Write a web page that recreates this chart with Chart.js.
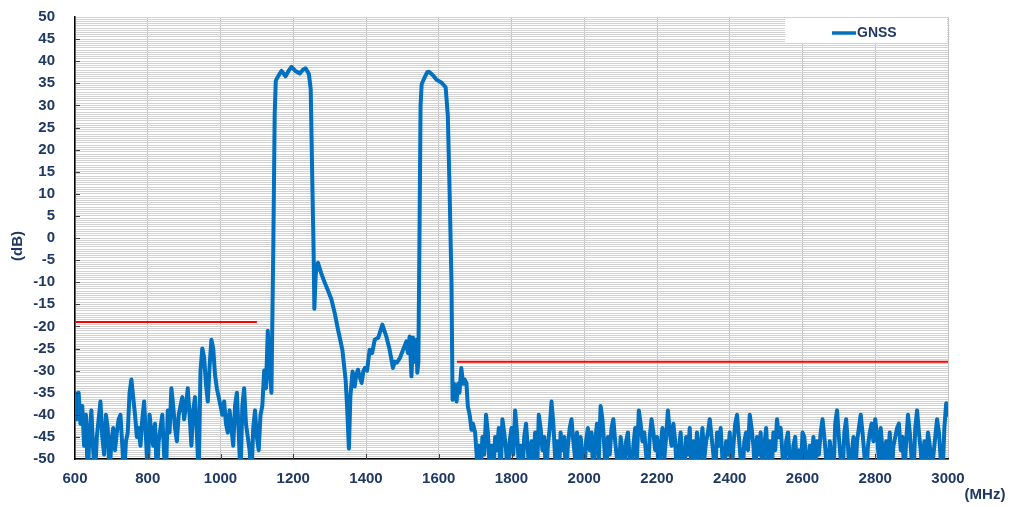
<!DOCTYPE html>
<html>
<head>
<meta charset="utf-8">
<script src="https://cdn.jsdelivr.net/npm/chart.js@4.4.1/dist/chart.umd.min.js"></script>
<style>
  html, body { margin: 0; padding: 0; background: #fff; }
  #wrap { width: 1015px; height: 507px; position: relative; }
</style>
</head>
<body>
<div id="wrap"><canvas id="gnss-chart"></canvas></div>
<script>
const freqMHz = [
  // low side noise
  600, 605, 610, 615, 620, 625, 630, 635, 640, 645, 650, 655, 660, 665, 670, 675, 680, 685, 690, 695,
  700, 705, 710, 715, 720, 725, 730, 735, 740, 745, 750, 755, 760, 765, 770, 775, 780, 785, 790, 795,
  800, 805, 810, 815, 820, 825, 830, 835, 840, 845, 850, 855, 860, 865, 870, 875, 880, 885, 890, 895,
  900, 905, 910, 915, 920, 925, 930, 935, 940, 945, 950, 955, 960, 965, 970, 975, 980, 985, 990, 995,
  1000, 1005, 1010, 1015, 1020, 1025, 1030, 1035, 1040, 1045, 1050, 1055, 1060, 1065, 1070, 1075, 1080, 1085, 1090, 1095,
  1100, 1105, 1110, 1115, 1120, 1125, 1130, 1135, 1140,
  // pass bands
  1145, 1149, 1152, 1160, 1168, 1179, 1187, 1195, 1206, 1218,
  1226, 1234, 1243, 1248, 1253, 1256, 1258, 1262, 1268, 1277,
  1287, 1296, 1305, 1314, 1323, 1335, 1344, 1348, 1353, 1357,
  1363, 1369, 1373, 1378, 1383, 1388, 1393, 1397, 1403, 1410,
  1417, 1424, 1434, 1445, 1456, 1465, 1474, 1479, 1485, 1493,
  1502, 1511, 1515, 1520, 1525, 1529, 1533, 1539, 1541, 1544,
  1547, 1550, 1553, 1561, 1568, 1573, 1579, 1584, 1594, 1607,
  1619, 1625, 1630, 1635, 1638, 1642, 1649, 1653, 1657, 1662,
  1667, 1671, 1676, 1680, 1685, 1690, 1694,
  // high side noise
  1700, 1705, 1710, 1715, 1720, 1725, 1730, 1735, 1740, 1745, 1750, 1755, 1760, 1765, 1770, 1775, 1780, 1785, 1790, 1795,
  1800, 1805, 1810, 1815, 1820, 1825, 1830, 1835, 1840, 1845, 1850, 1855, 1860, 1865, 1870, 1875, 1880, 1885, 1890, 1895,
  1900, 1905, 1910, 1915, 1920, 1925, 1930, 1935, 1940, 1945, 1950, 1955, 1960, 1965, 1970, 1975, 1980, 1985, 1990, 1995,
  2000, 2005, 2010, 2015, 2020, 2025, 2030, 2035, 2040, 2045, 2050, 2055, 2060, 2065, 2070, 2075, 2080, 2085, 2090, 2095,
  2100, 2105, 2110, 2115, 2120, 2125, 2130, 2135, 2140, 2145, 2150, 2155, 2160, 2165, 2170, 2175, 2180, 2185, 2190, 2195,
  2200, 2205, 2210, 2215, 2220, 2225, 2230, 2235, 2240, 2245, 2250, 2255, 2260, 2265, 2270, 2275, 2280, 2285, 2290, 2295,
  2300, 2305, 2310, 2315, 2320, 2325, 2330, 2335, 2340, 2345, 2350, 2355, 2360, 2365, 2370, 2375, 2380, 2385, 2390, 2395,
  2400, 2405, 2410, 2415, 2420, 2425, 2430, 2435, 2440, 2445, 2450, 2455, 2460, 2465, 2470, 2475, 2480, 2485, 2490, 2495,
  2500, 2505, 2510, 2515, 2520, 2525, 2530, 2535, 2540, 2545, 2550, 2555, 2560, 2565, 2570, 2575, 2580, 2585, 2590, 2595,
  2600, 2605, 2610, 2615, 2620, 2625, 2630, 2635, 2640, 2645, 2650, 2655, 2660, 2665, 2670, 2675, 2680, 2685, 2690, 2695,
  2700, 2705, 2710, 2715, 2720, 2725, 2730, 2735, 2740, 2745, 2750, 2755, 2760, 2765, 2770, 2775, 2780, 2785, 2790, 2795,
  2800, 2805, 2810, 2815, 2820, 2825, 2830, 2835, 2840, 2845, 2850, 2855, 2860, 2865, 2870, 2875, 2880, 2885, 2890, 2895,
  2900, 2905, 2910, 2915, 2920, 2925, 2930, 2935, 2940, 2945, 2950, 2955, 2960, 2965, 2970, 2975, 2980, 2985, 2990, 2995,
  3000
];
const gnssDb = [
  -35, -41, -35, -42, -38, -47, -40, -54, -44, -39, -48, -54, -45, -41, -37, -45, -49, -40, -43, -54,
  -46, -43, -48, -44, -41, -40, -47, -54, -46, -44, -35, -32, -36, -40, -45, -43, -47, -41, -37, -45,
  -54, -40, -44, -47, -42, -54, -46, -43, -40, -49, -54, -39, -44, -34, -38, -43, -46, -40, -38, -36,
  -41, -38, -34, -40, -47, -39, -36, -44, -54, -30, -25, -27, -33, -37, -29, -23, -25, -31, -34, -36,
  -38, -40, -37, -42, -44, -39, -43, -47, -38, -35, -44, -54, -38, -34, -42, -45, -48, -54, -43, -39,
  -45, -48, -40, -38, -30, -34, -21, -30, -35,

  -3, 28, 35.6, 36.8, 37.8, 36.6, 37.8, 38.7, 37.8, 37.2,
  38, 38.4, 37.1, 33.7, 10, -3, -16, -8, -5.6, -8,
  -10.2, -12, -13.9, -17, -20.7, -25.3, -32.1, -38.1, -47.6, -35.9,
  -30.2, -33.6, -31, -29.8, -31.5, -32.8, -30, -29.4, -30, -25.3,
  -26, -23, -22.5, -19.6, -22.3, -25.3, -29.4, -28, -28.2, -27.2,
  -25.3, -23.4, -26, -22.3, -31.3, -22.5, -28, -23, -30.5, -28,
  0, 30, 34.8, 36.3, 37.5, 37.6, 37.2, 36.8, 35.8, 35.2,
  34.1, 27.6, 10, -10, -36.6, -33, -37, -33, -35, -29.4,
  -33, -32, -32.8, -38.1, -40, -43.4, -42,

  -44, -50, -47, -54, -45, -49, -40, -44, -52, -47, -54, -45, -48, -43, -54, -41, -44, -48, -54, -46,
  -43, -49, -39, -44, -51, -47, -54, -45, -42, -48, -54, -46, -50, -44, -54, -40, -43, -48, -45, -54,
  -47, -43, -37, -42, -50, -46, -54, -44, -48, -45, -54, -47, -43, -41, -46, -50, -44, -54, -45, -49,
  -54, -46, -43, -48, -44, -54, -46, -42, -50, -38, -41, -47, -54, -45, -49, -43, -41, -46, -50, -54,
  -45, -48, -54, -46, -44, -50, -54, -47, -43, -50, -39, -42, -46, -44, -49, -54, -45, -41, -44, -48,
  -45, -54, -47, -43, -50, -45, -39, -44, -47, -42, -46, -54, -48, -44, -50, -54, -45, -49, -43, -54,
  -46, -50, -44, -54, -47, -43, -50, -46, -44, -41, -45, -49, -54, -44, -47, -43, -50, -54, -46, -49,
  -44, -54, -47, -42, -40, -45, -50, -54, -46, -44, -48, -40, -43, -47, -54, -45, -49, -44, -54, -47,
  -43, -50, -46, -54, -44, -48, -41, -45, -43, -49, -54, -46, -44, -50, -54, -47, -45, -54, -48, -54,
  -44, -45, -50, -54, -47, -51, -45, -54, -46, -49, -44, -41, -45, -50, -54, -46, -50, -54, -42, -39,
  -45, -50, -54, -44, -41, -47, -54, -49, -45, -54, -46, -43, -40, -44, -49, -54, -47, -44, -42, -46,
  -41, -45, -50, -43, -48, -54, -46, -50, -44, -54, -47, -45, -43, -42, -48, -45, -54, -46, -40, -44,
  -50, -54, -43, -39, -44, -48, -54, -46, -50, -44, -47, -54, -49, -45, -41, -44, -50, -54, -43, -37.4,
  -40
];

// red limit lines
const limitLowMHz = [600, 1100];
const limitLowDb = [-19, -19];
const limitHighMHz = [1650, 3000];
const limitHighDb = [-28, -28];

const seriesName = 'GNSS';
const xTitle = '(MHz)';
const yTitle = '(dB)';

const navy = '#1f3864';
const blue = '#0070c0';
const fontFamily = 'Arial, "Liberation Sans", sans-serif';

function toPoints(xs, ys) {
  return xs.map((x, i) => ({ x: x, y: ys[i] }));
}

const decorations = {
  id: 'decorations',
  beforeDraw(chart) {
    const ctx = chart.ctx;
    ctx.save();
    ctx.fillStyle = '#fff';
    ctx.fillRect(0, 0, chart.width, chart.height);
    ctx.restore();
  },
  afterDraw(chart) {
    const ctx = chart.ctx;
    const area = chart.chartArea;
    const xs = chart.scales.x;
    const ys = chart.scales.y;
    ctx.save();

    // small inward tick marks
    ctx.strokeStyle = '#404040';
    ctx.lineWidth = 1;
    ctx.beginPath();
    for (let v = -45; v <= 45; v += 5) {
      const py = Math.round(ys.getPixelForValue(v)) + 0.5;
      ctx.moveTo(area.left, py);
      ctx.lineTo(area.left + 5, py);
    }
    for (let f = 800; f <= 2800; f += 200) {
      const px = Math.round(xs.getPixelForValue(f)) + 0.5;
      ctx.moveTo(px, area.bottom);
      ctx.lineTo(px, area.bottom - 5);
    }
    ctx.stroke();

    // legend box inside the plot
    const boxRight = area.right - 1;
    ctx.fillStyle = '#fff';
    ctx.fillRect(785, area.top + 1, boxRight - 785, 25);
    ctx.strokeStyle = blue;
    ctx.lineWidth = 3.5;
    ctx.beginPath();
    ctx.moveTo(832, 33);
    ctx.lineTo(856, 33);
    ctx.stroke();
    ctx.fillStyle = navy;
    ctx.font = 'bold 14px ' + fontFamily;
    ctx.textAlign = 'left';
    ctx.textBaseline = 'middle';
    ctx.fillText(seriesName, 857, 33);

    // axis titles
    ctx.font = 'bold 15px ' + fontFamily;
    ctx.textAlign = 'center';
    ctx.fillText(xTitle, 985, 495);
    ctx.translate(18, 246);
    ctx.rotate(-Math.PI / 2);
    ctx.fillText(yTitle, 0, 0);
    ctx.restore();
  }
};

new Chart(document.getElementById('gnss-chart').getContext('2d'), {
  type: 'line',
  data: {
    datasets: [
      {
        label: 'limit low',
        data: toPoints(limitLowMHz, limitLowDb),
        borderColor: '#ff0000',
        borderWidth: 2,
        pointRadius: 0,
        order: 0
      },
      {
        label: 'limit high',
        data: toPoints(limitHighMHz, limitHighDb),
        borderColor: '#ff0000',
        borderWidth: 2,
        pointRadius: 0,
        order: 0
      },
      {
        label: seriesName,
        data: toPoints(freqMHz, gnssDb),
        borderColor: blue,
        borderWidth: 4,
        borderJoinStyle: 'round',
        borderCapStyle: 'round',
        pointRadius: 0,
        tension: 0,
        fill: false,
        order: 1
      }
    ]
  },
  options: {
    responsive: true,
    maintainAspectRatio: false,
    animation: false,
    layout: { padding: { left: 0, right: 67, top: 17, bottom: 0 } },
    plugins: {
      legend: { display: false },
      tooltip: { enabled: false }
    },
    scales: {
      x: {
        type: 'linear',
        min: 600,
        max: 3000,
        afterFit(s) { s.height = 48; },
        ticks: {
          stepSize: 200,
          autoSkip: false,
          maxRotation: 0,
          padding: 11,
          color: navy,
          font: { family: fontFamily, size: 15, weight: 'bold' },
          callback: function(v) { return String(v); }
        },
        grid: { color: '#c4c4c4', drawTicks: false },
        border: { color: '#000', width: 1.5 }
      },
      y: {
        type: 'linear',
        min: -50,
        max: 50,
        afterFit(s) {
          s.width = 75;
          s.paddingTop = 0;
          s.paddingBottom = 0;
        },
        ticks: {
          stepSize: 0.5,
          autoSkip: false,
          maxTicksLimit: 400,
          padding: 20,
          color: navy,
          font: { family: fontFamily, size: 15, weight: 'bold' },
          callback: function(v) {
            return Math.abs(v / 5 - Math.round(v / 5)) < 1e-6 ? String(Math.round(v)) : '';
          }
        },
        grid: { color: '#d2d2d2', drawTicks: false },
        border: { color: '#000', width: 1.5 }
      }
    }
  },
  plugins: [decorations]
});
</script>
</body>
</html>
